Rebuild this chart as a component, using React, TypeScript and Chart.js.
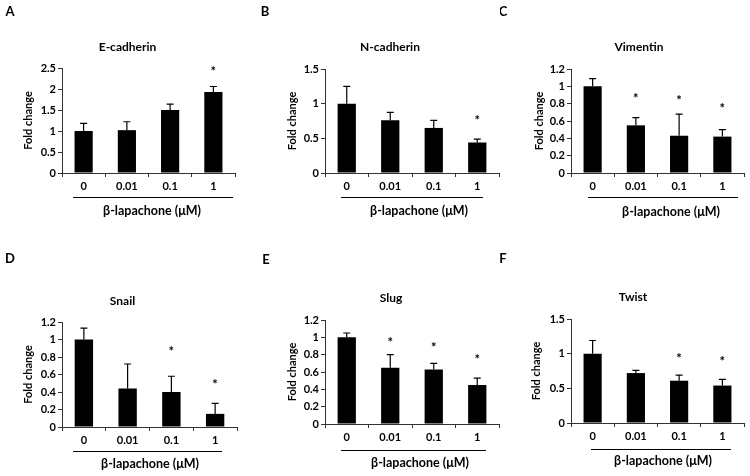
import { useEffect, useRef } from 'react';
import { Chart, registerables } from 'chart.js';

Chart.register(...registerables);

// ---------- data ----------
const categories = ['0', '0.01', '0.1', '1'];
const panelLetters = ['A', 'B', 'C', 'D', 'E', 'F'];
const panelTitles = ['E-cadherin', 'N-cadherin', 'Vimentin', 'Snail', 'Slug', 'Twist'];
const xAxisLabel = 'β-lapachone (μM)';
const yAxisLabel = 'Fold change';

const eCadherinMeans = [1.0, 1.02, 1.5, 1.93];
const eCadherinErrors = [0.18, 0.2, 0.14, 0.13];
const eCadherinStars = [null, null, null, 2.48];
const eCadherinTicks = [0, 0.5, 1, 1.5, 2, 2.5];

const nCadherinMeans = [1.0, 0.76, 0.65, 0.44];
const nCadherinErrors = [0.25, 0.115, 0.11, 0.05];
const nCadherinStars = [null, null, null, 0.79];
const nCadherinTicks = [0, 0.5, 1, 1.5];

const vimentinMeans = [1.0, 0.55, 0.43, 0.42];
const vimentinErrors = [0.09, 0.09, 0.25, 0.08];
const vimentinStars = [null, 0.89, 0.86, 0.77];
const vimentinTicks = [0, 0.2, 0.4, 0.6, 0.8, 1, 1.2];

const snailMeans = [1.0, 0.44, 0.4, 0.15];
const snailErrors = [0.13, 0.28, 0.18, 0.12];
const snailStars = [null, null, 0.89, 0.52];
const snailTicks = [0, 0.2, 0.4, 0.6, 0.8, 1, 1.2];

const slugMeans = [1.0, 0.65, 0.63, 0.45];
const slugErrors = [0.05, 0.15, 0.07, 0.08];
const slugStars = [null, 0.97, 0.91, 0.77];
const slugTicks = [0, 0.2, 0.4, 0.6, 0.8, 1, 1.2];

const twistMeans = [1.0, 0.72, 0.61, 0.54];
const twistErrors = [0.19, 0.04, 0.08, 0.09];
const twistStars = [null, null, 0.96, 0.93];
const twistTicks = [0, 0.5, 1, 1.5];

const seriesMeans = [eCadherinMeans, nCadherinMeans, vimentinMeans, snailMeans, slugMeans, twistMeans];
const seriesErrors = [eCadherinErrors, nCadherinErrors, vimentinErrors, snailErrors, slugErrors, twistErrors];
const seriesStars = [eCadherinStars, nCadherinStars, vimentinStars, snailStars, slugStars, twistStars];
const seriesTicks = [eCadherinTicks, nCadherinTicks, vimentinTicks, snailTicks, slugTicks, twistTicks];

// ---------- layout (page coordinates) ----------
const PANEL_W = 250;
const PANEL_H = 238;
const Y_AXIS_W = 40;
const X_AXIS_H = 30;
const FONT = 'Lato, "Open Sans", "DejaVu Sans", sans-serif';

type Layout = {
  cx: number; cy: number;
  left: number; right: number; top: number; bottom: number;
  letter: [number, number];
  title: [number, number];
  line: [number, number, number];
  xlab: [number, number];
  ytitleX: number;
};

const LAYOUTS: Layout[] = [
  { cx: 0, cy: 0, left: 62, right: 235, top: 68, bottom: 173, letter: [10, 12], title: [127.5, 47.5], line: [73, 233, 197], xlab: [152, 211], ytitleX: 28 },
  { cx: 250, cy: 0, left: 325, right: 499, top: 69, bottom: 173, letter: [265, 12], title: [390, 47.5], line: [341, 483, 197], xlab: [419, 211], ytitleX: 292 },
  { cx: 500, cy: 0, left: 571, right: 744, top: 69, bottom: 173, letter: [503, 12], title: [639, 47.5], line: [588, 738, 197], xlab: [671, 212], ytitleX: 539 },
  { cx: 0, cy: 238, left: 62, right: 237, top: 322, bottom: 427, letter: [10, 259], title: [122.5, 301], line: [73, 222, 451], xlab: [150, 464], ytitleX: 28 },
  { cx: 250, cy: 238, left: 325, right: 499, top: 320, bottom: 424, letter: [266, 260], title: [391, 298], line: [341, 486, 450], xlab: [420, 463], ytitleX: 292 },
  { cx: 500, cy: 238, left: 571, right: 744, top: 319, bottom: 423, letter: [503, 259], title: [633, 297], line: [591, 731, 449], xlab: [663, 461], ytitleX: 536 },
];

function makeDecor(idx: number) {
  const L = LAYOUTS[idx];
  const means = seriesMeans[idx];
  const errs = seriesErrors[idx];
  const stars = seriesStars[idx];
  return {
    id: 'decor' + idx,
    afterDatasetsDraw(chart: any) {
      const ctx = chart.ctx as CanvasRenderingContext2D;
      const ys = chart.scales.y;
      const meta = chart.getDatasetMeta(0);
      ctx.save();
      ctx.strokeStyle = '#000';
      ctx.lineWidth = 1.2;
      means.forEach((m, i) => {
        const px = meta.data[i].x;
        const y0 = ys.getPixelForValue(m);
        const y1 = ys.getPixelForValue(m + errs[i]);
        ctx.beginPath();
        ctx.moveTo(px, y0);
        ctx.lineTo(px, y1);
        ctx.moveTo(px - 3.5, y1);
        ctx.lineTo(px + 3.5, y1);
        ctx.stroke();
      });
      ctx.fillStyle = '#000';
      ctx.font = `bold 13px ${FONT}`;
      ctx.textAlign = 'center';
      ctx.textBaseline = 'alphabetic';
      stars.forEach((s, i) => {
        if (s == null) return;
        const px = meta.data[i].x;
        const py = ys.getPixelForValue(s);
        ctx.fillText('*', px, py + 7);
      });
      ctx.restore();
    },
    afterDraw(chart: any) {
      const ctx = chart.ctx as CanvasRenderingContext2D;
      const ox = L.cx, oy = L.cy;
      const ca = chart.chartArea;
      ctx.save();
      ctx.fillStyle = '#000';
      ctx.textAlign = 'center';
      ctx.textBaseline = 'middle';
      ctx.font = `bold 13px ${FONT}`;
      ctx.fillText(panelLetters[idx], L.letter[0] - ox, L.letter[1] - oy);
      ctx.font = `bold 12px ${FONT}`;
      ctx.fillText(panelTitles[idx], L.title[0] - ox, L.title[1] - oy);
      ctx.font = `bold 12.5px ${FONT}`;
      ctx.fillText(xAxisLabel, L.xlab[0] - ox, L.xlab[1] - oy);
      ctx.strokeStyle = '#000';
      ctx.lineWidth = 1;
      ctx.beginPath();
      ctx.moveTo(L.line[0] - ox, L.line[2] - oy + 0.5);
      ctx.lineTo(L.line[1] - ox, L.line[2] - oy + 0.5);
      ctx.stroke();
      ctx.save();
      ctx.translate(L.ytitleX - ox, (ca.top + ca.bottom) / 2);
      ctx.rotate(-Math.PI / 2);
      ctx.font = `bold 11px ${FONT}`;
      ctx.fillText(yAxisLabel, 0, 0);
      ctx.restore();
      ctx.restore();
    },
  };
}

function Panel({ idx }: { idx: number }) {
  const ref = useRef<HTMLCanvasElement>(null);
  const L = LAYOUTS[idx];
  useEffect(() => {
    if (!ref.current) return;
    const ticks = seriesTicks[idx];
    const chart = new Chart(ref.current, {
      type: 'bar',
      data: {
        labels: categories,
        datasets: [
          {
            data: seriesMeans[idx],
            backgroundColor: '#000',
            borderWidth: 0,
            barPercentage: 0.42,
            categoryPercentage: 1,
          },
        ],
      },
      options: {
        responsive: false,
        animation: false,
        devicePixelRatio: 1,
        layout: {
          padding: {
            left: L.left - L.cx - Y_AXIS_W,
            right: L.cx + PANEL_W - L.right,
            top: L.top - L.cy,
            bottom: L.cy + PANEL_H - L.bottom - X_AXIS_H,
          },
        },
        plugins: {
          legend: { display: false },
          tooltip: { enabled: false },
          title: { display: false },
        },
        scales: {
          x: {
            type: 'category',
            offset: true,
            grid: {
              display: true,
              drawOnChartArea: false,
              drawTicks: true,
              tickLength: 4,
              color: '#333',
              offset: true,
            },
            border: { display: true, color: '#333', width: 1 },
            ticks: {
              color: '#000',
              font: { family: FONT, size: 11, weight: 'bold' },
              padding: 3,
              maxRotation: 0,
              autoSkip: false,
            },
            afterFit: (s: any) => {
              s.height = X_AXIS_H;
            },
          },
          y: {
            type: 'linear',
            min: ticks[0],
            max: ticks[ticks.length - 1],
            grid: {
              display: true,
              drawOnChartArea: false,
              drawTicks: true,
              tickLength: 4,
              color: '#333',
            },
            border: { display: true, color: '#333', width: 1 },
            ticks: {
              color: '#000',
              font: { family: FONT, size: 11, weight: 'bold' },
              padding: 2,
              callback: (v: any) => String(Math.round(Number(v) * 100) / 100),
            },
            afterBuildTicks: (s: any) => {
              s.ticks = ticks.map((v) => ({ value: v }));
            },
            afterFit: (s: any) => {
              s.width = Y_AXIS_W;
            },
          },
        },
      },
      plugins: [makeDecor(idx)],
    });
    return () => chart.destroy();
  }, [idx]);
  return (
    <canvas
      ref={ref}
      width={PANEL_W}
      height={PANEL_H}
      style={{ position: 'absolute', left: L.cx, top: L.cy, width: PANEL_W, height: PANEL_H }}
    />
  );
}

export default function App() {
  return (
    <div style={{ position: 'absolute', left: 0, top: 0, width: 750, height: 476, background: '#fff', overflow: 'hidden' }}>
      {LAYOUTS.map((_, i) => (
        <Panel key={i} idx={i} />
      ))}
    </div>
  );
}
